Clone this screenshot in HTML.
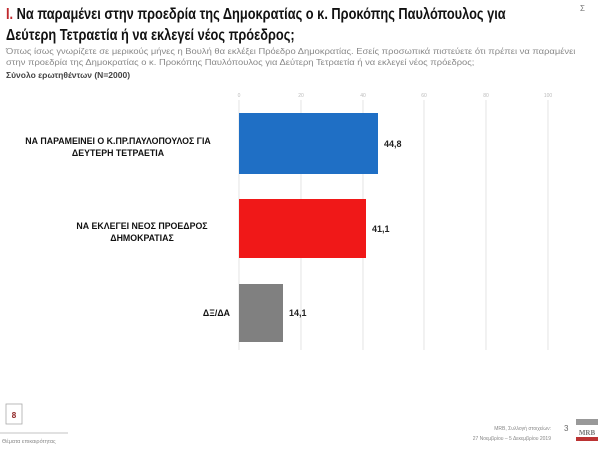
<!DOCTYPE html>
<html><head><meta charset="utf-8"><style>
body{margin:0;width:600px;height:450px;background:#fff;font-family:"Liberation Sans",sans-serif;position:relative;overflow:hidden}
.a{position:absolute;white-space:nowrap}
</style></head><body>
<div class="a" style="left:6px;top:4px;font-size:16px;font-weight:bold;line-height:21px;color:#111;transform:scaleX(0.8);transform-origin:0 0"><span style="color:#c0282d">I.</span> Να παραμένει στην προεδρία της Δημοκρατίας ο κ. Προκόπης Παυλόπουλος για<br>Δεύτερη Τετραετία ή να εκλεγεί νέος πρόεδρος;</div>
<div class="a" style="left:580px;top:4px;font-size:8px;color:#777">Σ</div>
<div class="a" style="left:6px;top:46px;font-size:8.3px;line-height:11px;color:#888;transform:scaleX(1.13);transform-origin:0 0">Όπως ίσως γνωρίζετε σε μερικούς μήνες η Βουλή θα εκλέξει Πρόεδρο Δημοκρατίας. Εσείς προσωπικά πιστεύετε ότι πρέπει να παραμένει<br>στην προεδρία της Δημοκρατίας ο κ. Προκόπης Παυλόπουλος για Δεύτερη Τετραετία ή να εκλεγεί νέος πρόεδρος;</div>
<div class="a" style="left:6px;top:70px;font-size:8.5px;font-weight:bold;color:#444">Σύνολο ερωτηθέντων (N=2000)</div>
<svg class="a" style="left:0;top:0" width="600" height="450">
<g stroke="#ddd" stroke-width="0.8">
<line x1="239" y1="100" x2="239" y2="350"/><line x1="301" y1="100" x2="301" y2="350"/><line x1="363" y1="100" x2="363" y2="350"/><line x1="424" y1="100" x2="424" y2="350"/><line x1="486" y1="100" x2="486" y2="350"/><line x1="548" y1="100" x2="548" y2="350"/>
</g>
<g font-size="5" fill="#bbb" text-anchor="middle" font-family="Liberation Sans">
<text x="239" y="97">0</text><text x="301" y="97">20</text><text x="363" y="97">40</text><text x="424" y="97">60</text><text x="486" y="97">80</text><text x="548" y="97">100</text>
</g>
<rect x="239" y="113" width="139" height="61" fill="#1f6fc5"/>
<rect x="239" y="199" width="127" height="59" fill="#f01818"/>
<rect x="239" y="284" width="44" height="58" fill="#808080"/>
<g font-size="9" font-weight="bold" fill="#222" font-family="Liberation Sans">
<text x="384" y="147">44,8</text><text x="372" y="232">41,1</text><text x="289" y="316">14,1</text>
</g>
<g font-size="8.8" font-weight="bold" fill="#111" text-anchor="middle" font-family="Liberation Sans">
<text x="118" y="144">ΝΑ ΠΑΡΑΜΕΙΝΕΙ Ο Κ.ΠΡ.ΠΑΥΛΟΠΟΥΛΟΣ ΓΙΑ</text><text x="118" y="156">ΔΕΥΤΕΡΗ ΤΕΤΡΑΕΤΙΑ</text>
<text x="142" y="229">ΝΑ ΕΚΛΕΓΕΙ ΝΕΟΣ ΠΡΟΕΔΡΟΣ</text><text x="142" y="241">ΔΗΜΟΚΡΑΤΙΑΣ</text>
</g>
<text x="230" y="316" font-size="8.8" font-weight="bold" fill="#111" text-anchor="end" font-family="Liberation Sans">ΔΞ/ΔΑ</text>
<rect x="6" y="404" width="16" height="20" fill="none" stroke="#aaa" stroke-width="0.8"/>
<text x="14" y="418" font-size="8" font-weight="bold" fill="#8b1c1c" text-anchor="middle">8</text>
<line x1="0" y1="433" x2="68" y2="433" stroke="#888" stroke-width="0.6"/>
<text x="2" y="443" font-size="5.5" fill="#888">Θέματα επικαιρότητας</text>
<text x="551" y="430" font-size="5" fill="#888" text-anchor="end">MRB, Συλλογή στοιχείων:</text>
<text x="551" y="440" font-size="5" fill="#888" text-anchor="end">27 Νοεμβρίου – 5 Δεκεμβρίου 2019</text>
<text x="564" y="431" font-size="8" fill="#666">3</text>
<rect x="576" y="419" width="22" height="6" fill="#999"/>
<text x="587" y="435" font-size="7" font-weight="bold" fill="#777" text-anchor="middle" font-family="Liberation Serif">MRB</text>
<rect x="576" y="437" width="22" height="4" fill="#b33"/>
</svg>
</body></html>
